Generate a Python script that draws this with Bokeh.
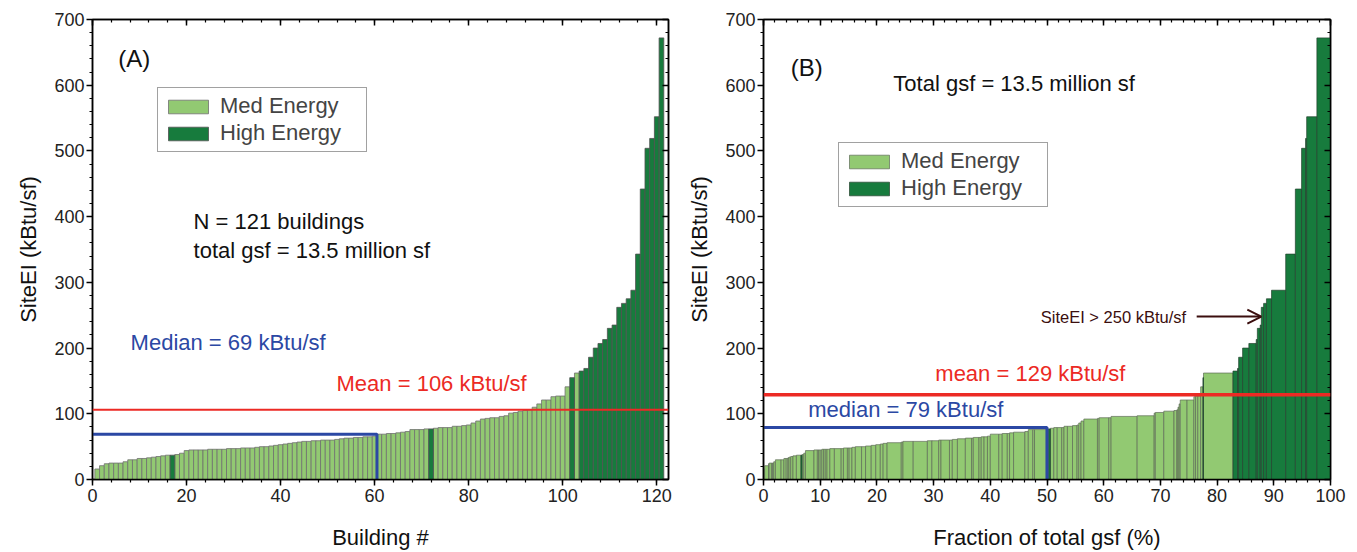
import numpy as np
from bokeh.plotting import figure
from bokeh.layouts import row
from bokeh.models import (ColumnDataSource, Label, Arrow, OpenHead, LinearAxis,
                          SingleIntervalTicker, CustomJSTickFormatter, Range1d,
                          Legend, LegendItem, Span)
from bokeh.embed import file_html
from bokeh.resources import INLINE

FONT = "Liberation Sans"
LIGHT = "#92c972"
DARK = "#177b3d"
BLUE = "#2b48a4"
RED = "#ec2a24"
BROWN = "#3b0e0e"

# Site energy intensity (kBtu/sf) of the 121 buildings, sorted ascending
site_ei = [16, 21, 24, 25, 25, 25, 27, 30, 30, 32,
           32, 33, 34, 35, 36, 37, 37, 38, 40, 44,
           45, 45, 45, 45, 46, 46, 46, 46, 47, 47,
           47, 48, 48, 48, 49, 50, 50, 51, 52, 53,
           54, 55, 56, 57, 58, 58, 59, 59, 60, 60,
           60, 61, 62, 63, 63, 64, 64, 65, 65, 66,
           69, 69, 70, 70, 71, 72, 73, 76, 76, 76,
           77, 77, 78, 79, 79, 79, 81, 81, 82, 83,
           86, 89, 92, 93, 94, 94, 96, 97, 101, 102,
           104, 105, 106, 110, 115, 121, 121, 126, 127, 127,
           141, 155, 162, 165, 169, 186, 200, 207, 213, 230,
           235, 262, 268, 275, 288, 343, 442, 504, 519, 552,
           672]

# Share of total gross square footage (%) of each building, same order
gsf_pct = [0.2, 0.7, 0.1, 0.4, 0.2, 0.2, 0.3, 1.0, 0.5, 0.4,
           0.3, 0.2, 0.3, 0.4, 0.6, 0.8, 0.2, 0.3, 0.3, 1.5,
           0.6, 0.2, 0.3, 0.3, 0.3, 0.3, 0.3, 0.5, 0.8, 1.2,
           0.4, 0.7, 0.3, 0.5, 0.6, 1.1, 0.7, 1.0, 0.8, 0.8,
           0.5, 0.7, 2.5, 0.3, 1.8, 2.5, 0.8, 1.2, 0.4, 1.5,
           0.5, 0.9, 1.4, 1.1, 0.3, 1.0, 0.4, 0.5, 0.6, 0.5,
           1.5, 0.6, 0.9, 0.4, 0.7, 2.0, 0.6, 0.8, 0.3, 2.1,
           0.4, 0.3, 0.6, 0.6, 0.8, 0.4, 0.6, 0.9, 0.8, 0.3,
           0.4, 0.5, 2.4, 0.3, 1.7, 0.4, 4.6, 3.0, 0.2, 1.5,
           1.8, 0.5, 0.2, 0.2, 0.2, 1.2, 1.2, 0.3, 0.4, 0.5,
           0.4, 0.1, 5.2, 0.8, 0.2, 0.7, 1.1, 1.3, 0.2, 0.5,
           0.2, 0.4, 0.5, 0.9, 2.5, 1.7, 1.1, 0.7, 0.2, 1.8,
           2.4]

# Building numbers flagged as "High Energy"
high_energy = [17, 72, 102] + list(range(104, 122))

median_a, mean_a, median_a_bldg = 69, 106, 60.5
median_b, mean_b, median_b_frac = 79, 129, 50
arrow_level = 248

buildings = np.arange(1, len(site_ei) + 1)
vals = np.array(site_ei, dtype=float)
gsf = np.array(gsf_pct, dtype=float)
right = np.cumsum(gsf)
left = right - gsf
is_high = np.isin(buildings, high_energy)


def make_src(mask):
    return ColumnDataSource(dict(b=buildings[mask], v=vals[mask],
                                 l=left[mask], r=right[mask]))


src_med, src_high = make_src(~is_high), make_src(is_high)


def base_fig(width, xmax, xint, bl, br, xlabel):
    p = figure(width=width, height=552, x_range=Range1d(0, xmax),
               y_range=Range1d(0, 700), output_backend="svg",
               toolbar_location=None, min_border_left=bl, min_border_right=br,
               min_border_top=19, min_border_bottom=72)
    p.grid.visible = False
    p.outline_line_color = "black"
    p.outline_line_width = 1.5
    p.background_fill_color = "white"
    p.border_fill_color = "white"
    p.xaxis.ticker = SingleIntervalTicker(interval=xint, num_minor_ticks=5)
    p.yaxis.ticker = SingleIntervalTicker(interval=100, num_minor_ticks=5)
    xa, ya = p.xaxis[0], p.yaxis[0]
    for ax in (xa, ya):
        ax.axis_line_width = 1.5
        ax.axis_line_color = "black"
        ax.major_tick_line_width = 1.5
        ax.minor_tick_line_width = 1.2
        ax.major_tick_in = 0
        ax.major_tick_out = 6
        ax.minor_tick_in = 0
        ax.minor_tick_out = 3
        ax.major_label_text_font = FONT
        ax.major_label_text_font_size = "18px"
        ax.major_label_text_color = "#222222"
        ax.axis_label_text_font = FONT
        ax.axis_label_text_font_size = "22px"
        ax.axis_label_text_font_style = "normal"
        ax.axis_label_text_color = "#111111"
    xa.major_label_standoff = 3
    xa.axis_label_standoff = 20
    xa.axis_label = xlabel
    ya.major_label_standoff = 2
    ya.axis_label_standoff = 10
    ya.axis_label = "SiteEI (kBtu/sf)"
    blank = CustomJSTickFormatter(code="return ''")
    for loc, ticker in (("above", SingleIntervalTicker(interval=xint, num_minor_ticks=5)),
                        ("right", SingleIntervalTicker(interval=100, num_minor_ticks=5))):
        ax = LinearAxis(ticker=ticker, formatter=blank, major_tick_in=6,
                        major_tick_out=0, minor_tick_in=3, minor_tick_out=0,
                        axis_line_width=1.5, major_tick_line_width=1.5,
                        minor_tick_line_width=1.2, major_label_standoff=0,
                        major_label_text_font_size="1px")
        p.add_layout(ax, loc)
    return p


def legend(p, rm, rh, loc):
    leg = Legend(items=[LegendItem(label="Med Energy", renderers=[rm]),
                        LegendItem(label="High Energy", renderers=[rh])],
                 location=loc, label_text_font=FONT, label_text_font_size="22px",
                 glyph_width=50, glyph_height=17, label_standoff=7, spacing=1,
                 padding=5, margin=0, label_width=141,
                 border_line_color="#444444", border_line_width=1.2,
                 background_fill_alpha=1.0)
    p.add_layout(leg)


def label(p, x, y, text, color="#111111", size="22px"):
    p.add_layout(Label(x=x, y=y, text=text, text_font=FONT, text_font_size=size,
                       text_color=color, text_align="left", text_baseline="middle"))


# ---------------- Panel A ----------------
pA = base_fig(680, 122.5, 20, 92, 12, "Building #")
rAm = pA.vbar(x="b", top="v", width=1.0, source=src_med, fill_color=LIGHT,
              line_color="#707070", line_width=0.8)
rAh = pA.vbar(x="b", top="v", width=1.0, source=src_high, fill_color=DARK,
              line_color="#505050", line_width=0.8)
pA.add_layout(Span(location=mean_a, dimension="width", line_color=RED, line_width=2))
pA.line(x=[0, median_a_bldg, median_a_bldg], y=[median_a, median_a, 0],
        line_color=BLUE, line_width=3)
legend(pA, rAm, rAh, (65, 327))
label(pA, 5.5, 641, "(A)", size="24px")
label(pA, 21.5, 392, "N = 121 buildings")
label(pA, 21.5, 348, "total gsf = 13.5 million sf")
label(pA, 8.1, 209, "Median = 69 kBtu/sf", color=BLUE)
label(pA, 51.9, 146, "Mean = 106 kBtu/sf", color=RED)

# ---------------- Panel B ----------------
pB = base_fig(677, 100, 10, 83, 27, "Fraction of total gsf (%)")
rBm = pB.quad(left="l", right="r", bottom=0, top="v", source=src_med,
              fill_color=LIGHT, line_color="#5f6b58", line_width=0.7)
rBh = pB.quad(left="l", right="r", bottom=0, top="v", source=src_high,
              fill_color=DARK, line_color="#24422e", line_width=0.7)
pB.add_layout(Span(location=mean_b, dimension="width", line_color=RED, line_width=3.5))
pB.line(x=[0, median_b_frac, median_b_frac], y=[median_b, median_b, 0],
        line_color=BLUE, line_width=3)
legend(pB, rBm, rBh, (75, 272))
label(pB, 4.8, 627, "(B)", size="24px")
label(pB, 22.9, 603, "Total gsf = 13.5 million sf")
label(pB, 48.9, arrow_level, "SiteEI > 250 kBtu/sf", color=BROWN, size="16.5px")
first_over = int(np.argmax(vals > 250))
pB.add_layout(Arrow(end=OpenHead(size=14, line_color=BROWN, line_width=2),
                    x_start=76.4, y_start=arrow_level,
                    x_end=float(left[first_over]), y_end=arrow_level,
                    line_color=BROWN, line_width=2))
label(pB, 30.3, 161, "mean = 129 kBtu/sf", color=RED)
label(pB, 7.9, 106, "median = 79 kBtu/sf", color=BLUE)

layout = row(pA, pB)
open("out.html", "w").write(file_html(layout, INLINE))
